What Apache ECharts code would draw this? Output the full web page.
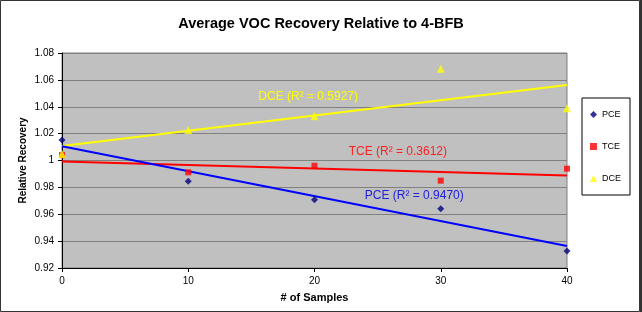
<!DOCTYPE html>
<html>
<head>
<meta charset="utf-8">
<script src="https://cdn.jsdelivr.net/npm/echarts@6/dist/echarts.min.js"></script>
<style>html,body{margin:0;padding:0;background:#fff}#c{width:642px;height:312px}</style>
</head>
<body>
<div id="c"></div>
<script>
const samples = [0, 10, 20, 30, 40];
const pce = [1.0153, 0.9845, 0.9708, 0.9641, 0.9326];
const tce = [1.004, 0.9912, 0.9961, 0.985, 0.9939];
const dce = [1.0048, 1.0227, 1.0329, 1.0683, 1.0388];
const fitLabels = {
  PCE: 'PCE (R² = 0.9470)',
  TCE: 'TCE (R² = 0.3612)',
  DCE: 'DCE (R² = 0.5927)'
};
const labelAt = { PCE: [27.9, 0.9738], TCE: [26.6, 1.0066], DCE: [19.5, 1.0475] };

function fit(xs, ys) {
  const n = xs.length;
  const mx = xs.reduce((a, b) => a + b, 0) / n;
  const my = ys.reduce((a, b) => a + b, 0) / n;
  let sxy = 0, sxx = 0;
  for (let i = 0; i < n; i++) { sxy += (xs[i] - mx) * (ys[i] - my); sxx += (xs[i] - mx) ** 2; }
  const b = sxy / sxx, a = my - b * mx;
  const x0 = xs[0], x1 = xs[n - 1];
  return [[x0, a + b * x0], [x1, a + b * x1]];
}
const pts = ys => samples.map((x, i) => [x, ys[i]]);
const font = 'Liberation Sans, Arial, sans-serif';

function trend(name, ys, color, labelColor) {
  return {
    name: name + ' trend', type: 'line', data: fit(samples, ys), showSymbol: false,
    lineStyle: { color: color, width: 2 }, silent: true, z: 3,
    markPoint: {
      symbol: 'circle', symbolSize: 1, itemStyle: { color: 'transparent' },
      label: { show: true, position: 'inside', formatter: fitLabels[name], color: labelColor, fontSize: 12, fontFamily: font },
      data: [{ coord: labelAt[name] }]
    }
  };
}

const chart = echarts.init(document.getElementById('c'), null, { renderer: 'canvas' });
chart.setOption({
  animation: false,
  backgroundColor: '#fff',
  title: {
    text: 'Average VOC Recovery Relative to 4-BFB', left: 'center', top: 11,
    textStyle: { fontFamily: font, fontSize: 14.5, fontWeight: 'bold', color: '#000' }
  },
  grid: { left: 62, right: 75, top: 53, bottom: 44, show: true, backgroundColor: '#C0C0C0', borderColor: '#808080', borderWidth: 1 },
  legend: {
    orient: 'vertical', left: 582, top: 98, padding: [12, 9, 12, 8],
    itemWidth: 7, itemHeight: 7, itemGap: 23,
    borderColor: '#000', borderWidth: 1,
    textStyle: { fontFamily: font, fontSize: 9, color: '#000' },
    data: [
      { name: 'PCE', icon: 'diamond' },
      { name: 'TCE', icon: 'rect' },
      { name: 'DCE', icon: 'triangle' }
    ]
  },
  xAxis: {
    type: 'value', min: 0, max: 40, interval: 10,
    name: '# of Samples', nameLocation: 'middle', nameGap: 24, nameMoveOverlap: false,
    nameTextStyle: { fontFamily: font, fontSize: 11, fontWeight: 'bold', color: '#000' },
    axisLine: { show: true, lineStyle: { color: '#000', width: 1 } },
    axisTick: { show: true, length: 4, lineStyle: { color: '#000' } },
    axisLabel: { fontFamily: font, fontSize: 10, color: '#000', margin: 8 },
    splitLine: { show: false }
  },
  yAxis: {
    type: 'value', min: 0.92, max: 1.08, interval: 0.02,
    name: 'Relative Recovery', nameLocation: 'middle', nameGap: 34, nameMoveOverlap: false,
    nameTextStyle: { fontFamily: font, fontSize: 10, fontWeight: 'bold', color: '#000' },
    axisLine: { show: true, lineStyle: { color: '#000', width: 1 } },
    axisTick: { show: true, length: 4, lineStyle: { color: '#000' } },
    axisLabel: { fontFamily: font, fontSize: 10, color: '#000', margin: 8, formatter: v => String(+v.toFixed(2)) },
    splitLine: { show: true, lineStyle: { color: '#808080', width: 1 } }
  },
  series: [
    trend('TCE', tce, '#FF0000', '#FF2020'),
    trend('DCE', dce, '#FFFF00', '#FFFF00'),
    trend('PCE', pce, '#0000FF', '#2020E0'),
    { name: 'TCE', type: 'scatter', data: pts(tce), symbol: 'rect', symbolSize: 6, itemStyle: { color: '#FF0000' }, z: 4 },
    { name: 'PCE', type: 'scatter', data: pts(pce), symbol: 'diamond', symbolSize: 7, itemStyle: { color: '#000080' }, z: 4 },
    { name: 'DCE', type: 'scatter', data: pts(dce), symbol: 'triangle', symbolSize: 8, itemStyle: { color: '#FFFF00' }, z: 5 }
  ],
  graphic: [
    { type: 'rect', silent: true, shape: { x: 0.5, y: 0.5, width: 639, height: 311 }, style: { fill: 'none', stroke: '#333', lineWidth: 1 } },
    { type: 'line', silent: true, shape: { x1: 641, y1: 0, x2: 641, y2: 312 }, style: { stroke: '#333', lineWidth: 2 } }
  ]
});
</script>
</body>
</html>
